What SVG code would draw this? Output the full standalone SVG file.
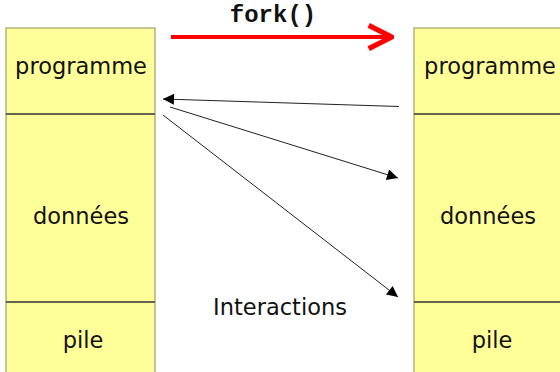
<svg xmlns="http://www.w3.org/2000/svg" width="560" height="372" viewBox="0 0 560 372">
  <style>
    .seg { fill: #ffff99; stroke: #b4b47a; stroke-width: 1.5; }
    .div { stroke: #333333; stroke-width: 1.5; }
    .lbl { font-family: "DejaVu Sans", "Liberation Sans", sans-serif; font-size: 22.5px; fill: #111111; text-anchor: middle; }
    .link { stroke: #222222; stroke-width: 1; fill: none; marker-end: url(#tri); }
  </style>
  <defs>
    <marker id="tri" viewBox="0 0 10 10" refX="10" refY="5" markerWidth="15" markerHeight="11" markerUnits="userSpaceOnUse" orient="auto">
      <path d="M0,0 L10,5 L0,10 Z" fill="#000000"/>
    </marker>
    <marker id="chev" viewBox="0 0 12 12" refX="11" refY="6" markerWidth="7" markerHeight="7" orient="auto">
      <path d="M1,1 L11,6 L1,11" fill="none" stroke="#ff0000" stroke-width="2.2" stroke-linejoin="miter"/>
    </marker>
  </defs>

  <rect width="560" height="372" fill="#ffffff"/>

  <!-- parent process memory -->
  <g id="parent">
    <rect class="seg" x="6" y="28" width="149" height="360"/>
    <line class="div" x1="6" y1="114" x2="155" y2="114"/>
    <line class="div" x1="6" y1="302" x2="155" y2="302"/>
    <text class="lbl" x="81" y="74">programme</text>
    <text class="lbl" x="81" y="224">données</text>
    <text class="lbl" x="83" y="348">pile</text>
  </g>

  <!-- child process memory -->
  <g id="child">
    <rect class="seg" x="414" y="28" width="160" height="360"/>
    <line class="div" x1="414" y1="114" x2="574" y2="114"/>
    <line class="div" x1="414" y1="302" x2="574" y2="302"/>
    <text class="lbl" x="490" y="74">programme</text>
    <text class="lbl" x="488" y="224">données</text>
    <text class="lbl" x="492" y="348">pile</text>
  </g>

  <g id="connectors">
    <line x1="171" y1="37" x2="392" y2="37" stroke="#ff0000" stroke-width="4" marker-end="url(#chev)"/>
    <line class="link" x1="399" y1="106.5" x2="163" y2="99"/>
    <line class="link" x1="170" y1="107" x2="398" y2="178"/>
    <line class="link" x1="163" y1="115" x2="398" y2="297"/>
  </g>

  <text x="273" y="22" font-family="'Liberation Mono', 'Courier New', monospace" font-weight="bold" font-size="24" fill="#111111" text-anchor="middle">fork()</text>
  <text class="lbl" x="280" y="315">Interactions</text>
</svg>
